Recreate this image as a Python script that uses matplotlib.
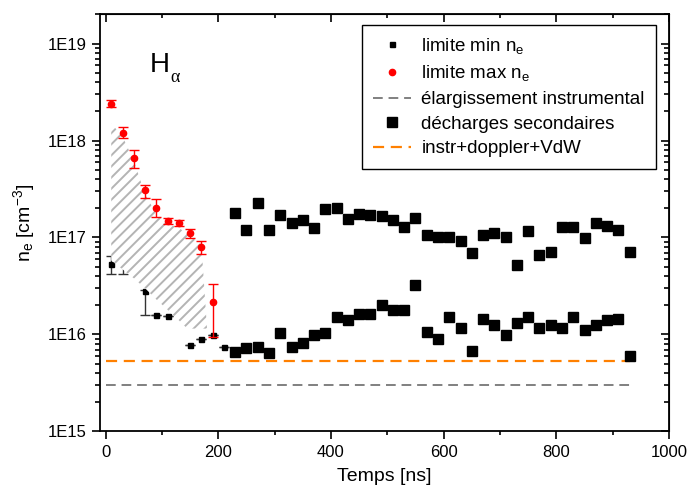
import matplotlib
matplotlib.use('Agg')
import matplotlib.pyplot as plt
from matplotlib.ticker import LogLocator, FuncFormatter, MultipleLocator
import numpy as np

plt.rcParams['font.family'] = ['Liberation Sans', 'DejaVu Sans']
plt.rcParams['mathtext.fontset'] = 'custom'
plt.rcParams['mathtext.rm'] = 'Liberation Sans'
plt.rcParams['mathtext.it'] = 'Liberation Sans:italic'
plt.rcParams['hatch.color'] = '#b4b4b4'
plt.rcParams['hatch.linewidth'] = 1.4

# limite min n_e (petits carrés noirs)
min_x = [10, 30, 70, 90, 110, 150, 170, 190, 210]
min_y = [5.3e16, 5.5e16, 2.8e16, 1.6e16, 1.56e16, 7.8e15, 9.0e15, 9.8e15, 7.5e15]
min_err_lo = [1.1e16, 1.25e16, 1.2e16, 0, 0, 0, 0, 0, 0]
min_err_hi = [1.2e16, 1.0e16, 0.1e16, 0, 0, 0, 0, 0, 0]

# limite max n_e (points rouges)
max_x = [10, 30, 50, 70, 90, 110, 130, 150, 170, 190]
max_y = [2.4e18, 1.2e18, 6.6e17, 3.1e17, 2.03e17, 1.48e17, 1.41e17, 1.11e17, 7.9e16, 2.14e16]
max_lo = [2.2e18, 1.07e18, 5.25e17, 2.57e17, 1.64e17, 1.38e17, 1.30e17, 0.99e17, 6.8e16, 0.95e16]
max_hi = [2.6e18, 1.38e18, 7.9e17, 3.5e17, 2.5e17, 1.6e17, 1.53e17, 1.22e17, 9.1e16, 3.3e16]

# zone hachurée entre les deux limites
hatch_x = [10, 30, 50, 70, 90, 110, 130, 145, 170, 180]
hatch_hi = [1.5e18, 1.1e18, 6.2e17, 2.8e17, 1.75e17, 1.38e17, 1.26e17, 1.08e17, 8.5e16, 1.15e16]
hatch_lo = [5.8e16, 4.7e16, 3.8e16, 3.0e16, 2.3e16, 1.8e16, 1.4e16, 1.15e16, 1.15e16, 1.15e16]

# décharges secondaires (gros carrés)
sec_x = [230, 250, 270, 290, 310, 330, 350, 370, 390, 410, 430, 450, 470, 490, 510,
         530, 550, 570, 590, 610, 630, 650, 670, 690, 710, 730, 750, 770, 790, 810,
         830, 850, 870, 890, 910, 930]
sec_hi = [1.77e17, 1.2e17, 2.27e17, 1.2e17, 1.71e17, 1.41e17, 1.53e17, 1.25e17, 1.95e17,
          2.0e17, 1.56e17, 1.75e17, 1.70e17, 1.67e17, 1.5e17, 1.28e17, 1.6e17, 1.07e17,
          1.02e17, 1.02e17, 9.2e16, 6.95e16, 1.06e17, 1.11e17, 1.02e17, 5.2e16, 1.18e17,
          6.6e16, 7.1e16, 1.29e17, 1.29e17, 9.8e16, 1.40e17, 1.30e17, 1.2e17, 7.1e16]
sec_lo = [6.6e15, 7.3e15, 7.4e15, 6.4e15, 1.04e16, 7.4e15, 8.2e15, 9.8e15, 1.03e16,
          1.51e16, 1.42e16, 1.61e16, 1.61e16, 2.01e16, 1.79e16, 1.77e16, 3.27e16, 1.07e16,
          9.0e15, 1.51e16, 1.16e16, 6.7e15, 1.43e16, 1.24e16, 9.9e15, 1.32e16, 1.51e16,
          1.16e16, 1.24e16, 1.16e16, 1.51e16, 1.1e16, 1.24e16, 1.4e16, 1.43e16, 6.0e15]

# limites d'élargissement
instr_level = 3.0e15
total_level = 5.3e15
line_x = [0, 930]

fig = plt.figure(figsize=(6.89, 4.95), dpi=100)
ax = fig.add_axes([0.1451, 0.1283, 0.8259, 0.8428])

ax.fill_between(hatch_x, hatch_lo, hatch_hi, facecolor='white', edgecolor='#b4b4b4',
                hatch='///', linewidth=0, zorder=2)

ax.errorbar(min_x, min_y, yerr=[min_err_lo, min_err_hi], fmt='none', ecolor='#333333',
            elinewidth=1, capsize=3.5, zorder=1)
ax.plot(min_x, min_y, 's', color='black', ms=3.6, zorder=1, label='limite min n$_\\mathregular{e}$')

max_yerr = [np.array(max_y) - np.array(max_lo), np.array(max_hi) - np.array(max_y)]
ax.errorbar(max_x, max_y, yerr=max_yerr, fmt='none', ecolor='red', elinewidth=1,
            capsize=3.5, zorder=4)
ax.plot(max_x, max_y, 'o', color='red', ms=4.5, zorder=5, label='limite max n$_\\mathregular{e}$')

ax.plot(line_x, [instr_level, instr_level], '--', color='#808080', lw=1.4, dashes=(5, 3),
        label='élargissement instrumental')
ax.plot(sec_x, sec_hi, 's', color='black', ms=7.2, label='décharges secondaires', zorder=3)
ax.plot(sec_x, sec_lo, 's', color='black', ms=7.2, zorder=3)
ax.plot(line_x, [total_level, total_level], '--', color='#ff8000', lw=1.6, dashes=(5, 3),
        label='instr+doppler+VdW')

ax.set_yscale('log')
ax.set_xlim(-10, 1000)
ax.set_ylim(1e15, 2e19)
ax.xaxis.set_major_locator(MultipleLocator(200))
ax.xaxis.set_minor_locator(MultipleLocator(100))
ax.yaxis.set_major_locator(LogLocator(base=10))
ax.yaxis.set_minor_locator(LogLocator(base=10, subs=np.arange(2, 10)))
ax.yaxis.set_minor_formatter(FuncFormatter(lambda v, p: ''))
ax.yaxis.set_major_formatter(FuncFormatter(lambda v, p: '1E%d' % round(np.log10(v))))

for s in ax.spines.values():
    s.set_linewidth(1.3)
ax.tick_params(which='both', labelsize=12, width=1.2)
ax.tick_params(which='major', length=6)
ax.tick_params(which='minor', length=3.5)
ax.tick_params(axis='x', which='minor', length=3)
# axes secondaires : graduations vers l'intérieur
ax_top = ax.secondary_xaxis('top')
ax_top.xaxis.set_major_locator(MultipleLocator(200))
ax_top.xaxis.set_minor_locator(MultipleLocator(100))
ax_top.tick_params(which='both', direction='in', labeltop=False, width=1.2)
ax_top.tick_params(which='major', length=6)
ax_top.tick_params(which='minor', length=3)
ax_right = ax.secondary_yaxis('right')
ax_right.yaxis.set_major_locator(LogLocator(base=10))
ax_right.yaxis.set_minor_locator(LogLocator(base=10, subs=np.arange(2, 10)))
ax_right.tick_params(which='both', direction='in', labelright=False, width=1.2)
ax_right.tick_params(which='major', length=6)
ax_right.tick_params(which='minor', length=3.5)

ax.set_xlabel('Temps [ns]', fontsize=14, labelpad=6)
ax.set_ylabel('n$_\\mathregular{e}$ [cm$^\\mathregular{-3}$]', fontsize=14, labelpad=8)

ax.text(0.088, 0.861, 'H', transform=ax.transAxes, fontsize=20, va='baseline')
ax.text(0.123, 0.838, 'α', transform=ax.transAxes, fontsize=13, va='baseline',
        family='Liberation Serif')

leg = ax.legend(loc='upper right', bbox_to_anchor=(0.977, 0.975), borderaxespad=0,
                fontsize=13.5, numpoints=1, fancybox=False, framealpha=1,
                handlelength=2.0, labelspacing=0.4, borderpad=0.6, handletextpad=0.55)
leg.get_frame().set_edgecolor('black')
leg.get_frame().set_linewidth(1.0)

fig.savefig('out.png', dpi=100)
